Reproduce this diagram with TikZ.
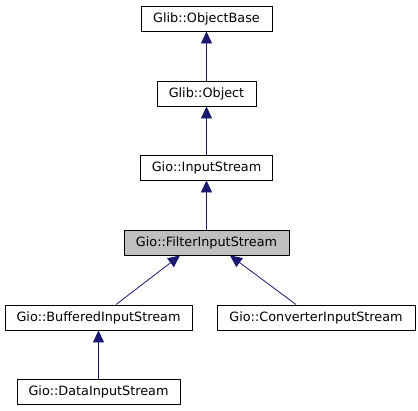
\documentclass[tikz,border=0pt]{standalone}
\usepackage{fontspec}
\setmainfont{DejaVu Sans}
\usetikzlibrary{arrows.meta}
\definecolor{edgeblue}{HTML}{191970}
\definecolor{hl}{HTML}{BFBFBF}
\begin{document}
\begin{tikzpicture}[x=1pt,y=-1pt,
  cls/.style={draw=black,line width=0.9pt,fill=white,inner sep=0pt,font=\fontsize{12.8}{14}\selectfont},
  inh/.style={draw=edgeblue,line width=0.8pt,-{Triangle[length=12pt,width=11pt,fill=edgeblue]}}]
\useasboundingbox (0,0) rectangle (418,411);
\node[cls,minimum width=131pt,minimum height=25pt] (ob) at (206.5,18.5) {Glib::ObjectBase};
\node[cls,minimum width=99pt,minimum height=25pt] (o) at (206.5,93.5) {Glib::Object};
\node[cls,minimum width=132pt,minimum height=25pt] (is) at (206.5,167.5) {Gio::InputStream};
\node[cls,fill=hl,minimum width=165pt,minimum height=25pt] (fis) at (206.5,242.5) {Gio::FilterInputStream};
\node[cls,minimum width=187pt,minimum height=25pt] (bis) at (98.5,317.5) {Gio::BufferedInputStream};
\node[cls,minimum width=198pt,minimum height=25pt] (cis) at (316,317.5) {Gio::ConverterInputStream};
\node[cls,minimum width=163pt,minimum height=25pt] (dis) at (98.5,391.5) {Gio::DataInputStream};
\coordinate (bt) at ([xshift=17.5pt]bis.north);
\coordinate (ct) at ([xshift=-20pt]cis.north);
\coordinate (fb) at ([xshift=-26.5pt]fis.south);
\coordinate (fc) at ([xshift=23.5pt]fis.south);
\draw[inh] (o.north) -- (ob.south);
\draw[inh] (is.north) -- (o.south);
\draw[inh] (fis.north) -- (is.south);
\draw[inh] (bt) -- (fb);
\draw[inh] (ct) -- (fc);
\draw[inh] (dis.north) -- (bis.south);
\end{tikzpicture}
\end{document}
